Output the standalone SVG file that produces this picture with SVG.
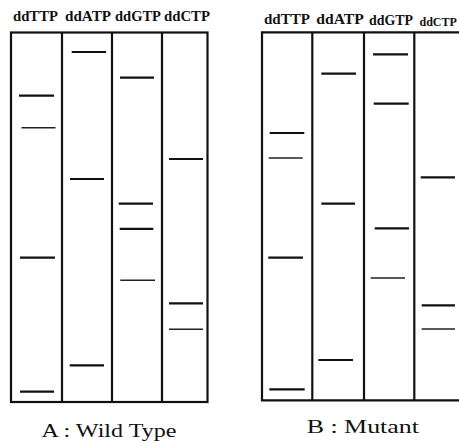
<svg xmlns="http://www.w3.org/2000/svg" width="459" height="441" viewBox="0 0 459 441">
<style>
.frame{fill:none;stroke:#111;stroke-width:2.2}
.lane{stroke:#111;stroke-width:2.2}
.b{stroke:#111;stroke-width:2.2}
.t{stroke:#222;stroke-width:1.4}
.hd{font-family:"Liberation Serif","DejaVu Serif",serif;font-weight:bold;font-size:14px;fill:#111}
.cap{font-family:"Liberation Serif","DejaVu Serif",serif;font-size:19px;fill:#111}
</style>
<rect width="459" height="441" fill="#fff"/>
<g id="panelA">
<text class="hd" x="13" y="20.5" textLength="45" lengthAdjust="spacingAndGlyphs">ddTTP</text>
<text class="hd" x="65" y="20.5" textLength="46" lengthAdjust="spacingAndGlyphs">ddATP</text>
<text class="hd" x="115" y="20.5" textLength="46" lengthAdjust="spacingAndGlyphs">ddGTP</text>
<text class="hd" x="164" y="20.5" textLength="46" lengthAdjust="spacingAndGlyphs">ddCTP</text>
<rect class="frame" x="11" y="32.5" width="196.5" height="369.5"/>
<line class="lane" x1="62" y1="32.5" x2="62" y2="402"/>
<line class="lane" x1="112" y1="32.5" x2="112" y2="402"/>
<line class="lane" x1="162" y1="32.5" x2="162" y2="402"/>
<line class="b" x1="19" y1="95.7" x2="54" y2="95.7"/>
<line class="t" x1="21.5" y1="127.7" x2="55.5" y2="127.7"/>
<line class="b" x1="20" y1="257.7" x2="55" y2="257.7"/>
<line class="b" x1="20" y1="391.7" x2="54" y2="391.7"/>
<line class="b" x1="71.7" y1="52" x2="106" y2="52"/>
<line class="b" x1="70" y1="179" x2="104" y2="179"/>
<line class="b" x1="69.7" y1="365.3" x2="104" y2="365.3"/>
<line class="b" x1="120" y1="77.7" x2="154" y2="77.7"/>
<line class="b" x1="118.7" y1="203.7" x2="153" y2="203.7"/>
<line class="b" x1="119.7" y1="228.8" x2="153.3" y2="228.8"/>
<line class="t" x1="120.3" y1="280.3" x2="155" y2="280.3"/>
<line class="b" x1="169" y1="159" x2="203" y2="159"/>
<line class="b" x1="169" y1="303.3" x2="203" y2="303.3"/>
<line class="t" x1="169" y1="329.3" x2="203" y2="329.3"/>
<text class="cap" x="41.5" y="437.3" textLength="135" lengthAdjust="spacingAndGlyphs">A : Wild Type</text>
</g>
<g id="panelB">
<text class="hd" x="264" y="24" textLength="46" lengthAdjust="spacingAndGlyphs">ddTTP</text>
<text class="hd" x="316.3" y="24" textLength="47.5" lengthAdjust="spacingAndGlyphs">ddATP</text>
<text class="hd" x="369" y="24.5" textLength="44" lengthAdjust="spacingAndGlyphs">ddGTP</text>
<text class="hd" x="419.5" y="26" style="font-size:12px">ddCTP</text>
<polyline class="frame" points="462,32.3 262,32.3 262,400.3 462,400.3"/>
<line class="lane" x1="312.3" y1="32.3" x2="312.3" y2="400.3"/>
<line class="lane" x1="364" y1="32.3" x2="364" y2="400.3"/>
<line class="lane" x1="414.3" y1="32.3" x2="414.3" y2="400.3"/>
<line class="b" x1="269.7" y1="133" x2="304.3" y2="133"/>
<line class="t" x1="268.7" y1="158" x2="302.7" y2="158"/>
<line class="b" x1="268.3" y1="257.7" x2="303" y2="257.7"/>
<line class="b" x1="269.3" y1="389.3" x2="304.7" y2="389.3"/>
<line class="b" x1="321.3" y1="73.7" x2="356" y2="73.7"/>
<line class="b" x1="321.3" y1="203.7" x2="355" y2="203.7"/>
<line class="b" x1="318.3" y1="360" x2="353" y2="360"/>
<line class="b" x1="373" y1="54.3" x2="408" y2="54.3"/>
<line class="b" x1="373.7" y1="103.7" x2="408.7" y2="103.7"/>
<line class="b" x1="374.7" y1="228.3" x2="409" y2="228.3"/>
<line class="t" x1="370.7" y1="278" x2="405" y2="278"/>
<line class="b" x1="420.7" y1="177.3" x2="455" y2="177.3"/>
<line class="b" x1="421.7" y1="305.3" x2="455" y2="305.3"/>
<line class="t" x1="421.7" y1="329" x2="455" y2="329"/>
<text class="cap" x="306.7" y="432.7" textLength="112.3" lengthAdjust="spacingAndGlyphs">B : Mutant</text>
</g>
</svg>
